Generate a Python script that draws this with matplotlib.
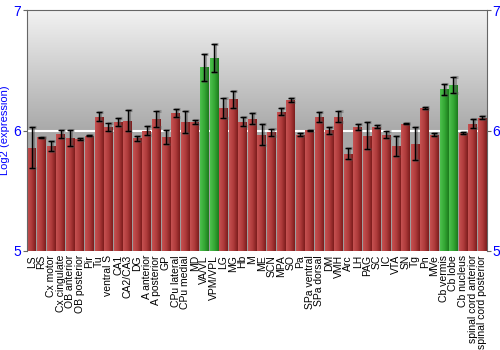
import numpy as np
import matplotlib.pyplot as plt
from matplotlib.colors import LinearSegmentedColormap

plt.rcParams['font.family'] = ['Liberation Sans', 'DejaVu Sans']

regions = ["LS", "RS", "Cx motor", "Cx cingulate", "OB anterior", "OB posterior",
           "Pir", "Tu", "ventral S", "CA1", "CA2/CA3", "DG", "A anterior",
           "A posterior", "GP", "CPu lateral", "CPu medial", "MD", "VA/VL",
           "VPM/VPL", "LG", "MG", "Hb", "M", "ME", "SCN", "MPA", "SO", "Pa",
           "SPa ventral", "SPa dorsal", "DM", "VMH", "Arc", "LH", "PAG", "SC",
           "IC", "VTA", "SN", "Tg", "Pn", "MVe", "Cb vermis", "Cb lobe",
           "Cb nucleus", "spinal cord anterior", "spinal cord posterior"]
expression = [5.856, 5.945, 5.873, 5.975, 5.939, 5.928, 5.958, 6.116, 6.030,
              6.072, 6.083, 5.936, 6.000, 6.097, 5.950, 6.147, 6.072, 6.072,
              6.524, 6.604, 6.188, 6.258, 6.075, 6.100, 5.967, 5.986, 6.158,
              6.252, 5.967, 6.003, 6.111, 6.003, 6.116, 5.806, 6.028, 5.958,
              6.033, 5.964, 5.875, 6.058, 5.892, 6.188, 5.967, 6.341, 6.380,
              5.981, 6.058, 6.108]
errors = [0.17, 0.005, 0.044, 0.033, 0.066, 0.01, 0.005, 0.039, 0.036, 0.033,
          0.09, 0.02, 0.04, 0.065, 0.058, 0.035, 0.09, 0.014, 0.114, 0.114,
          0.082, 0.072, 0.037, 0.048, 0.087, 0.028, 0.028, 0.017, 0.012, 0.003,
          0.043, 0.028, 0.048, 0.046, 0.024, 0.112, 0.011, 0.029, 0.083, 0.003,
          0.136, 0.011, 0.015, 0.046, 0.064, 0.01, 0.039, 0.012]
highlight = ["VA/VL", "VPM/VPL", "Cb vermis", "Cb lobe"]

BASE = 5
x = np.arange(len(regions))

fig = plt.figure(figsize=(5, 3.5), dpi=100)
ax = fig.add_axes([0.054, 0.283, 0.92, 0.688])

# grey gradient background
bg = LinearSegmentedColormap.from_list('bg', ['#9c9c9c', '#a9a9a9', '#f2f2f2'])
grad = np.linspace(0, 1, 256).reshape(-1, 1)
ax.imshow(grad, cmap=bg, aspect='auto', origin='lower',
          extent=(-0.5, len(regions) - 0.5, 5, 7), zorder=0)
ax.axhline(6, color='white', lw=1.5, zorder=1)

# bars with horizontal shading
red = LinearSegmentedColormap.from_list('red', ['#c65252', '#b03c3c', '#7c1c1c'])
green = LinearSegmentedColormap.from_list('green', ['#4ec04e', '#34a834', '#1c7a1c'])
hgrad = np.linspace(0, 1, 64).reshape(1, -1)
heights = np.array(expression) - BASE
bars = ax.bar(x, heights, bottom=BASE, width=0.9, color='none', edgecolor='none', zorder=2)
for name, patch in zip(regions, bars):
    cmap = green if name in highlight else red
    x0, y0 = patch.get_x(), patch.get_y()
    im = ax.imshow(hgrad, cmap=cmap, aspect='auto',
                   extent=(x0, x0 + patch.get_width(), y0, y0 + patch.get_height()),
                   zorder=2)
    im.set_clip_path(patch)

# error bars: grey shadow then black
ax.errorbar(x + 0.12, expression, yerr=errors, fmt='none', ecolor='#555555',
            elinewidth=2.2, capsize=2.5, capthick=2.2, alpha=0.45, zorder=3)
ax.errorbar(x, expression, yerr=errors, fmt='none', ecolor='black',
            elinewidth=1, capsize=2.5, capthick=1, zorder=4)

ax.set_xlim(-0.5, len(regions) - 0.5)
ax.set_ylim(5, 7)
ax.set_yticks([5, 6, 7])
ax.tick_params(axis='y', colors='#666666', labelcolor='blue', labelsize=10,
               length=3, right=True, labelright=True, pad=1)
ax.set_xticks(x)
ax.set_xticklabels(regions, rotation=90, fontsize=7.5)
ax.tick_params(axis='x', length=0, pad=3)
for side in ['left', 'right', 'top']:
    ax.spines[side].set_color('#666666')
ax.spines['bottom'].set_visible(False)
ax.set_ylabel('Log2 (expression)', color='blue', fontsize=8, labelpad=3)

fig.savefig('out.png', dpi=100)
